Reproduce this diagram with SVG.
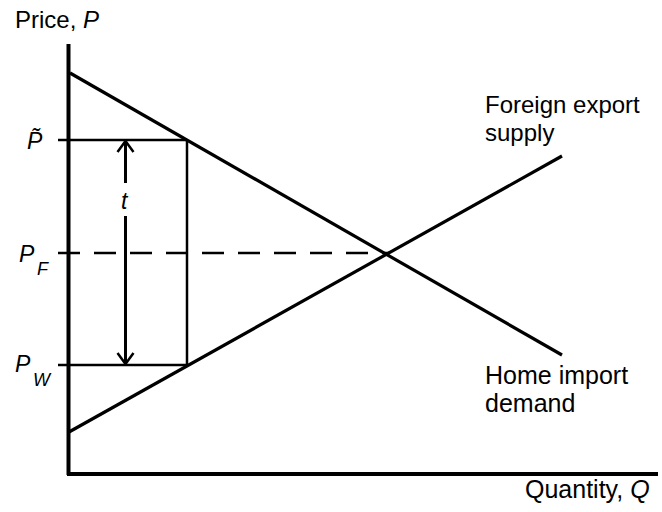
<svg xmlns="http://www.w3.org/2000/svg" width="662" height="512" viewBox="0 0 662 512">
<style>
text{font-family:"Liberation Sans",Arial,sans-serif;fill:#000;font-size:25px}
.it{font-style:italic}
.ln{stroke:#000;fill:none}
</style>
<defs>
<marker id="open" viewBox="0 0 20 20" refX="18" refY="10" markerWidth="20" markerHeight="20" markerUnits="userSpaceOnUse" orient="auto-start-reverse">
<path d="M7,2 L18,10 L7,18" fill="none" stroke="#000" stroke-width="2.5"/>
</marker>
</defs>
<rect width="662" height="512" fill="#fff"/>
<g id="axes">
<line class="ln" x1="68.5" y1="44" x2="68.5" y2="475" stroke-width="4"/>
<line class="ln" x1="67" y1="474" x2="658" y2="474" stroke-width="4"/>
<text x="15" y="28" style="font-size:24px">Price, <tspan class="it">P</tspan></text>
<text x="525" y="498" style="font-size:25px">Quantity, <tspan class="it">Q</tspan></text>
</g>
<g id="connectors">
<line class="ln" x1="70" y1="73" x2="562" y2="355" stroke-width="3.2"/>
<line class="ln" x1="69" y1="432" x2="562" y2="156" stroke-width="3.2"/>
<line class="ln" x1="58" y1="140" x2="187" y2="140" stroke-width="2.5"/>
<line class="ln" x1="58" y1="365" x2="187" y2="365" stroke-width="2.5"/>
<line class="ln" x1="58" y1="253" x2="390" y2="253" stroke-width="2.5" stroke-dasharray="22,14"/>
<line class="ln" x1="187" y1="140" x2="187" y2="365" stroke-width="2.5"/>
<line class="ln" x1="125.5" y1="141" x2="125.5" y2="183" stroke-width="3" marker-start="url(#open)"/>
<line class="ln" x1="125.5" y1="216" x2="125.5" y2="364" stroke-width="3" marker-end="url(#open)"/>
</g>
<g id="labels">
<text class="it" x="121" y="209" style="font-size:23px">t</text>
<text class="it" x="27" y="149" style="font-size:23px">P̃</text>
<text class="it" x="19" y="262" style="font-size:23px">P</text>
<text class="it" x="37" y="275" style="font-size:18px">F</text>
<text class="it" x="15" y="372" style="font-size:23px">P</text>
<text class="it" x="33" y="386" style="font-size:18px">W</text>
</g>
<g id="supply-label">
<text x="485" y="113" style="font-size:24px">Foreign export</text>
<text x="485" y="141" style="font-size:24px">supply</text>
</g>
<g id="demand-label">
<text x="485" y="384">Home import</text>
<text x="485" y="412">demand</text>
</g>
</svg>
